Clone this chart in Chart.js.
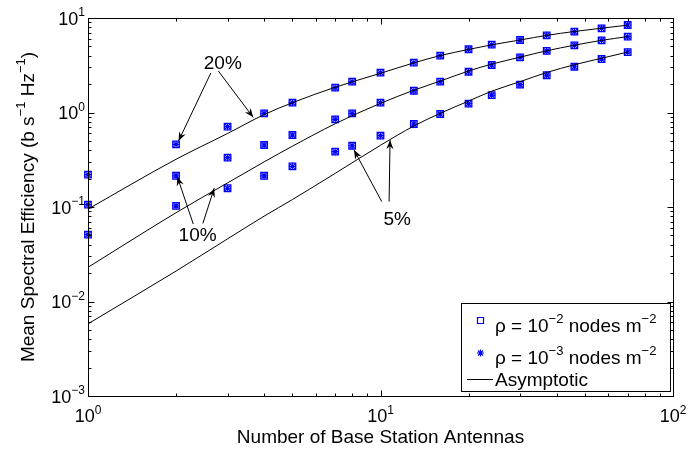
<!DOCTYPE html>
<html>
<head>
<meta charset="utf-8">
<script src="https://cdn.jsdelivr.net/npm/chart.js@4"></script>
<style>
html, body { margin: 0; padding: 0; background: #fff; }
</style>
</head>
<body>
<canvas id="chart" width="689" height="453"></canvas>
<script>
// number of base station antennas where the simulations were run
const antennas = [1, 2, 3, 4, 5, 7, 8, 10, 13, 16, 20, 24, 30, 37, 46, 57, 70];

// simulated mean spectral efficiency (both densities sit on top of each other)
const sim20 = [0.22, 0.46, 0.71, 0.98, 1.27, 1.83, 2.12, 2.64, 3.37, 3.99, 4.67, 5.22, 5.85, 6.56, 7.16, 7.78, 8.43];
const sim10 = [0.106, 0.214, 0.333, 0.453, 0.578, 0.847, 0.98, 1.27, 1.70, 2.12, 2.70, 3.18, 3.84, 4.48, 5.14, 5.81, 6.34];
const sim5 = [0.051, 0.103, 0.158, 0.214, 0.269, 0.385, 0.445, 0.569, 0.756, 0.964, 1.24, 1.53, 1.97, 2.48, 3.05, 3.68, 4.36];

// asymptotic curves
const asymX = [1, 2, 3, 4, 5, 7, 10, 13, 16, 20, 24, 30, 37, 46, 57, 70];
const asym20 = [0.095, 0.32, 0.60, 0.95, 1.27, 1.85, 2.6, 3.35, 4.0, 4.65, 5.2, 5.85, 6.55, 7.2, 7.8, 8.4];
const asym10 = [0.023, 0.087, 0.18, 0.30, 0.44, 0.76, 1.25, 1.72, 2.15, 2.75, 3.25, 3.85, 4.5, 5.15, 5.8, 6.35];
const asym5 = [0.0058, 0.021, 0.046, 0.08, 0.12, 0.227, 0.45, 0.72, 0.98, 1.32, 1.68, 2.12, 2.65, 3.2, 3.75, 4.36];

const xTicks = [1, 10, 100];
const xTickExp = ['0', '1', '2'];
const yTicks = [0.001, 0.01, 0.1, 1, 10];
const yTickExp = ['\u22123', '\u22122', '\u22121', '0', '1'];

// percentage labels: text position, then arrow start/end points (data units)
const notes = [
    { text: '20%', at: [2.89, 3.3], arrows: [[[2.63, 2.62], [2.04, 0.50]], [[2.79, 2.75], [3.67, 0.89]]] },
    { text: '10%', at: [2.37, 0.05], arrows: [[[2.29, 0.066], [2.02, 0.209]], [[2.47, 0.067], [2.70, 0.158]]] },
    { text: '5%', at: [11.4, 0.074], arrows: [[[10.1, 0.114], [8.12, 0.40]], [[10.7, 0.114], [10.78, 0.51]]] }
];

const FONT = '"Liberation Sans", Arial, Helvetica, sans-serif';
const BLUE = '#0000ff';

function pts(xs, ys) {
    return xs.map((x, i) => ({ x: x, y: ys[i] }));
}

// draws text made of [string, isSuperscript] pieces
function richText(ctx, parts, x, y, align, size) {
    const supSize = Math.round(size * 0.68);
    let total = 0;
    const widths = parts.map(p => {
        ctx.font = (p[1] ? supSize : size) + 'px ' + FONT;
        const w = ctx.measureText(p[0]).width;
        total += w;
        return w;
    });
    let cx = x;
    if (align === 'center') cx = x - total / 2;
    if (align === 'right') cx = x - total;
    ctx.textAlign = 'left';
    ctx.textBaseline = 'alphabetic';
    parts.forEach((p, i) => {
        ctx.font = (p[1] ? supSize : size) + 'px ' + FONT;
        ctx.fillText(p[0], cx, p[1] ? y - size * 0.45 : y);
        cx += widths[i];
    });
}

function arrow(ctx, x0, y0, x1, y1) {
    ctx.beginPath();
    ctx.moveTo(x0, y0);
    ctx.lineTo(x1, y1);
    ctx.stroke();
    const a = Math.atan2(y1 - y0, x1 - x0);
    const len = 9, half = 3.6, back = 6;
    ctx.save();
    ctx.translate(x1, y1);
    ctx.rotate(a);
    ctx.beginPath();
    ctx.moveTo(0, 0);
    ctx.lineTo(-len, -half);
    ctx.lineTo(-back, 0);
    ctx.lineTo(-len, half);
    ctx.closePath();
    ctx.fill();
    ctx.restore();
}

const decor = {
    id: 'decor',
    afterDraw(chart) {
        const ctx = chart.ctx;
        const a = chart.chartArea;
        const sx = chart.scales.x, sy = chart.scales.y;
        ctx.save();
        ctx.strokeStyle = '#000';
        ctx.fillStyle = '#000';
        ctx.lineWidth = 1;

        // annotations
        notes.forEach(n => {
            n.arrows.forEach(ar => {
                arrow(ctx, sx.getPixelForValue(ar[0][0]), sy.getPixelForValue(ar[0][1]),
                    sx.getPixelForValue(ar[1][0]), sy.getPixelForValue(ar[1][1]));
            });
            ctx.font = '19px ' + FONT;
            ctx.textAlign = 'center';
            ctx.textBaseline = 'middle';
            ctx.fillText(n.text, sx.getPixelForValue(n.at[0]), sy.getPixelForValue(n.at[1]));
        });

        // box
        const L = Math.round(a.left) + 0.5, R = Math.round(a.right) + 0.5;
        const T = Math.round(a.top) + 0.5, B = Math.round(a.bottom) + 0.5;
        ctx.strokeRect(L, T, R - L, B - T);

        // ticks pointing inwards
        ctx.beginPath();
        for (let d = 1; d <= 100; d *= 10) {
            for (let k = 1; k <= 9; k++) {
                const v = d * k;
                if (v > 100) break;
                const px = Math.round(sx.getPixelForValue(v)) + 0.5;
                const len = k === 1 ? 6 : 3;
                ctx.moveTo(px, B); ctx.lineTo(px, B - len);
                ctx.moveTo(px, T); ctx.lineTo(px, T + len);
            }
        }
        for (let d = 0.001; d <= 10.0001; d *= 10) {
            for (let k = 1; k <= 9; k++) {
                const v = d * k;
                if (v > 10.0001) break;
                const py = Math.round(sy.getPixelForValue(v)) + 0.5;
                const len = k === 1 ? 6 : 3;
                ctx.moveTo(L, py); ctx.lineTo(L + len, py);
                ctx.moveTo(R, py); ctx.lineTo(R - len, py);
            }
        }
        ctx.stroke();

        // tick labels
        xTicks.forEach((v, i) => {
            richText(ctx, [['10', false], [xTickExp[i], true]], sx.getPixelForValue(v), 422, 'center', 18);
        });
        yTicks.forEach((v, i) => {
            richText(ctx, [['10', false], [yTickExp[i], true]], 85, sy.getPixelForValue(v) + 6.5, 'right', 18);
        });

        // axis titles
        ctx.font = '19px ' + FONT;
        ctx.textAlign = 'center';
        ctx.textBaseline = 'alphabetic';
        ctx.fillText('Number of Base Station Antennas', (a.left + a.right) / 2, 443);
        ctx.save();
        ctx.translate(34, (a.top + a.bottom) / 2);
        ctx.rotate(-Math.PI / 2);
        richText(ctx, [['Mean Spectral Efficiency (b s', false], ['\u22121', true], [' Hz', false], ['\u22121', true], [')', false]], 0, 0, 'center', 19);
        ctx.restore();

        // legend
        const lx = 461.5, ly = 303.5, lw = 209, lh = 88;
        ctx.fillStyle = '#fff';
        ctx.fillRect(lx, ly, lw, lh);
        ctx.strokeStyle = '#000';
        ctx.strokeRect(lx, ly, lw, lh);
        ctx.strokeStyle = BLUE;
        ctx.lineWidth = 1.2;
        ctx.beginPath();
        ctx.rect(477.5, 317.5, 6, 6);
        ctx.stroke();
        ctx.beginPath();
        const cx = 480.5, cy = 353;
        for (let k = 0; k < 4; k++) {
            const ang = k * Math.PI / 4;
            ctx.moveTo(cx - 3.5 * Math.cos(ang), cy - 3.5 * Math.sin(ang));
            ctx.lineTo(cx + 3.5 * Math.cos(ang), cy + 3.5 * Math.sin(ang));
        }
        ctx.stroke();
        ctx.lineWidth = 1;
        ctx.strokeStyle = '#000';
        ctx.beginPath();
        ctx.moveTo(467, 379.5);
        ctx.lineTo(493, 379.5);
        ctx.stroke();
        ctx.fillStyle = '#000';
        richText(ctx, [['\u03c1 = 10', false], ['\u22122', true], [' nodes m', false], ['\u22122', true]], 495, 332, 'left', 19);
        richText(ctx, [['\u03c1 = 10', false], ['\u22123', true], [' nodes m', false], ['\u22122', true]], 495, 364, 'left', 19);
        richText(ctx, [['Asymptotic', false]], 495, 386, 'left', 19);

        ctx.restore();
    }
};

function squares(ys) {
    return {
        data: pts(antennas, ys), showLine: false, pointStyle: 'rect', pointRadius: 4.6,
        borderColor: BLUE, backgroundColor: 'rgba(0,0,0,0)', borderWidth: 1.3, clip: false
    };
}
function stars(ys) {
    return {
        data: pts(antennas, ys), showLine: false, pointStyle: 'star', pointRadius: 3.6,
        borderColor: BLUE, backgroundColor: BLUE, borderWidth: 1.2, clip: false
    };
}
function asym(ys) {
    return {
        data: pts(asymX, ys), borderColor: '#000', borderWidth: 1, pointRadius: 0,
        cubicInterpolationMode: 'monotone', fill: false
    };
}

new Chart(document.getElementById('chart').getContext('2d'), {
    type: 'line',
    data: {
        datasets: [
            asym(asym20), asym(asym10), asym(asym5),
            stars(sim20), stars(sim10), stars(sim5),
            squares(sim20), squares(sim10), squares(sim5)
        ]
    },
    options: {
        responsive: false,
        animation: false,
        layout: { padding: { left: 88, right: 16, top: 18, bottom: 57 } },
        plugins: { legend: { display: false }, tooltip: { enabled: false } },
        scales: {
            x: { type: 'logarithmic', min: 1, max: 100, display: false },
            y: { type: 'logarithmic', min: 0.001, max: 10, display: false }
        }
    },
    plugins: [decor]
});
</script>
</body>
</html>
